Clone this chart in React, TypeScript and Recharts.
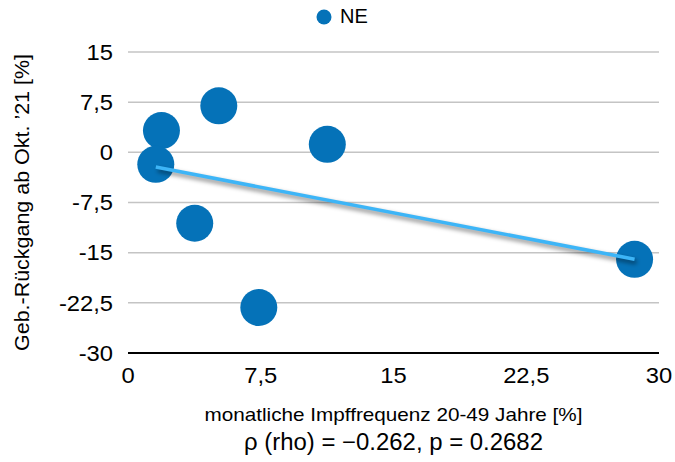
import React from 'react';
import { ScatterChart, Scatter, XAxis, YAxis, CartesianGrid, Label } from 'recharts';

const seriesName = 'NE';
const xValues = [1.89, 1.57, 3.77, 5.13, 7.39, 11.26, 28.62];
const yValues = [3.25, -1.8, -10.6, 6.95, -23.2, 1.2, -16.0];
const xTicks = [0, 7.5, 15, 22.5, 30];
const yTicks = [-30, -22.5, -15, -7.5, 0, 7.5, 15];
const xTitle = 'monatliche Impffrequenz 20-49 Jahre [%]';
const yTitle = 'Geb.-Rückgang ab Okt. ’21 [%]';
const statsText = 'ρ (rho) = −0.262, p = 0.2682';

const FONT = '"Liberation Sans", Arial, sans-serif';
const BUBBLE = '#0572b8';
const TREND = '#3db5f7';
const STRETCH = 1.08;

const points = xValues.map((x, i) => ({ x, y: yValues[i] }));

// least-squares linear trendline (as Excel draws it) between min and max x
const n = xValues.length;
const mx = xValues.reduce((s, v) => s + v, 0) / n;
const my = yValues.reduce((s, v) => s + v, 0) / n;
let sxy = 0;
let sxx = 0;
xValues.forEach((x, i) => {
  sxy += (x - mx) * (yValues[i] - my);
  sxx += (x - mx) * (x - mx);
});
const slope = sxy / sxx;
const intercept = my - slope * mx;
const minX = Math.min(...xValues);
const maxX = Math.max(...xValues);
const trend = [
  { x: minX, y: intercept + slope * minX },
  { x: maxX, y: intercept + slope * maxX },
];

const fmt = (v: number) => String(v).replace('.', ',');

const Bubble = (props: any) => {
  const { cx, cy } = props;
  if (cx == null || cy == null) return <g />;
  return <circle cx={cx} cy={cy} r={18.5} fill={BUBBLE} />;
};

const renderTrend = (props: any) => {
  const pts = props.points;
  if (!pts || pts.length < 2) return <g />;
  const d = `M${pts[0].x},${pts[0].y}L${pts[pts.length - 1].x},${pts[pts.length - 1].y}`;
  return (
    <g>
      <defs>
        <filter id="trendShadow" filterUnits="userSpaceOnUse" x="0" y="0" width="675" height="462">
          <feGaussianBlur stdDeviation="2" />
        </filter>
      </defs>
      <path d={d} transform="translate(2,3)" stroke="#000" strokeOpacity={0.4} strokeWidth={4.5} fill="none" filter="url(#trendShadow)" />
      <path d={d} stroke={TREND} strokeWidth={3.6} fill="none" />
    </g>
  );
};

const XTick = (props: any) => {
  const { x, y, payload } = props;
  return (
    <g transform={`translate(${x},${y}) scale(${STRETCH},1)`}>
      <text x={0} y={0} dy="0.71em" textAnchor="middle" fontFamily={FONT} fontSize={22} fill="#000">
        {fmt(payload.value)}
      </text>
    </g>
  );
};

const YTick = (props: any) => {
  const { x, y, payload } = props;
  return (
    <g transform={`translate(${x},${y}) scale(${STRETCH},1)`}>
      <text x={0} y={0} dy="0.355em" textAnchor="end" fontFamily={FONT} fontSize={22} fill="#000">
        {fmt(payload.value)}
      </text>
    </g>
  );
};

const YTitle = (props: any) => {
  const vb = props.viewBox || {};
  const cy = (vb.y ?? 52) + (vb.height ?? 301) / 2;
  const bx = 28.5;
  return (
    <text
      x={bx}
      y={cy}
      transform={`rotate(-90, ${bx}, ${cy})`}
      textAnchor="middle"
      fontFamily={FONT}
      fontSize={20}
      textLength={297}
      lengthAdjust="spacingAndGlyphs"
      fill="#000"
    >
      {yTitle}
    </text>
  );
};

export default function App() {
  return (
    <div style={{ position: 'absolute', left: 0, top: 0, width: 675, height: 462, background: '#fff', fontFamily: FONT }}>
      <div
        style={{
          position: 'absolute',
          left: 316,
          top: 5,
          display: 'flex',
          alignItems: 'center',
          fontSize: 20,
          color: '#000',
        }}
      >
        <svg width={16} height={16} style={{ marginRight: 8 }}>
          <circle cx={8} cy={8} r={7.5} fill={BUBBLE} />
        </svg>
        <span>{seriesName}</span>
      </div>
      <ScatterChart width={675} height={462} margin={{ top: 52, right: 16, left: 0, bottom: 0 }}>
        <CartesianGrid vertical={false} stroke="#c4c4c4" strokeWidth={1.5} />
        <XAxis
          type="number"
          dataKey="x"
          domain={[0, 30]}
          ticks={xTicks}
          height={109}
          axisLine={{ stroke: '#000', strokeWidth: 2 }}
          tickLine={false}
          tickMargin={8}
          tick={<XTick />}
          interval={0}
        >
          <Label
            content={(p: any) => {
              const vb = p.viewBox || {};
              const cx = (vb.x ?? 128) + (vb.width ?? 531) / 2;
              return (
                <g>
                  <text
                    x={cx}
                    y={421}
                    textAnchor="middle"
                    fontFamily={FONT}
                    fontSize={18.5}
                    textLength={378}
                    lengthAdjust="spacingAndGlyphs"
                    fill="#000"
                  >
                    {xTitle}
                  </text>
                  <text
                    x={cx}
                    y={450}
                    textAnchor="middle"
                    fontFamily={FONT}
                    fontSize={23}
                    textLength={299}
                    lengthAdjust="spacingAndGlyphs"
                    fill="#000"
                  >
                    {statsText}
                  </text>
                </g>
              );
            }}
          />
        </XAxis>
        <YAxis
          type="number"
          dataKey="y"
          domain={[-30, 15]}
          ticks={yTicks}
          width={128}
          axisLine={false}
          tickLine={false}
          tickMargin={9}
          tick={<YTick />}
          interval={0}
        >
          <Label content={YTitle} />
        </YAxis>
        <Scatter name={seriesName} data={points} fill={BUBBLE} shape={Bubble} isAnimationActive={false} />
        <Scatter
          name="Trend"
          data={trend}
          line={renderTrend}
          shape={() => <g />}
          isAnimationActive={false}
          legendType="none"
        />
      </ScatterChart>
    </div>
  );
}
